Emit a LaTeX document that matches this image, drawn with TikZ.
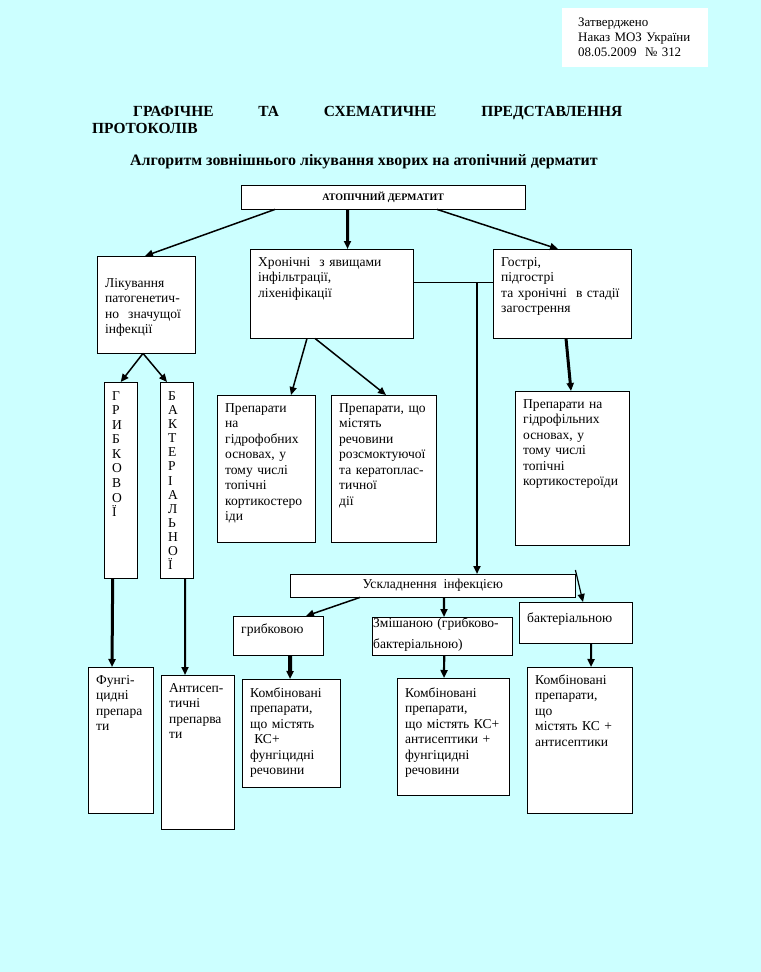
\documentclass[tikz,border=0pt]{standalone}
\usepackage{fontspec}
\setmainfont{Liberation Serif}
\usepackage{tikz}
\usetikzlibrary{arrows.meta}
\definecolor{bgcyan}{RGB}{204,255,255}
\hyphenpenalty=10000
\exhyphenpenalty=10000
\tikzset{
    cell/.style 2 args={draw, fill=white, anchor=north west, align=left,
        inner xsep=8bp, inner ysep=0pt,
        text width=#1bp-16bp, text height=17bp, text depth=#2bp-17bp},
    bar/.style={draw, fill=white, anchor=north west, inner sep=0pt},
    letters/.style={font=\fontsize{13.6}{#1}\selectfont, text height=18bp}
}

\begin{document}
\begin{tikzpicture}[x=1bp, y=-1bp,
    every node/.append style={font=\fontsize{13.6}{15.6}\selectfont}]
\fill[bgcyan] (0,0) rectangle (761,972);

% headings
\node[cell={146}{59}, draw=none, inner xsep=16bp, text width=114bp,
      text height=18bp, text depth=41bp, font=\fontsize{13}{15.3}\selectfont]
      (appr) at (562,8) {Затверджено\\Наказ МОЗ України\\08.05.2009\ \ № 312};
\node[anchor=base west, inner sep=0pt, text width=530bp, align=left,
      font=\bfseries\fontsize{15.5}{18}\selectfont]
      (ttl) at (92,116) {\hspace*{41bp}ГРАФІЧНЕ\hfill ТА\hfill СХЕМАТИЧНЕ\hfill ПРЕДСТАВЛЕННЯ\\ПРОТОКОЛІВ};
\node[anchor=base, font=\bfseries\fontsize{16}{19}\selectfont]
      (sub) at (364,165) {Алгоритм зовнішнього лікування хворих на атопічний дерматит};

% boxes
\begin{scope}
    \node[bar, minimum width=284bp, minimum height=24bp,
          font=\bfseries\fontsize{10}{12}\selectfont] (atop) at (241,185) {АТОПІЧНИЙ ДЕРМАТИТ};
    \node[cell={98}{97}, text height=31bp, text depth=66bp] (treat) at (97,256)
        {Лікування\\патогенетич-\\но\ \ значущої\\інфекції};
    \node[cell={163}{89}] (chron) at (250,249) {Хронічні\ \ з явищами\\інфільтрації,\\ліхеніфікації};
    \node[cell={138}{89}] (acute) at (493,249) {Гострі,\\підгострі\\та хронічні\ \ в стадії\\загострення};
    \node[cell={33}{195}, letters=14.6] (fung) at (104,382) {Г\\Р\\И\\Б\\К\\О\\В\\О\\Ї};
    \node[cell={33}{195}, letters=14.2] (bact) at (160,382) {Б\\А\\К\\Т\\Е\\Р\\І\\А\\Л\\Ь\\Н\\О\\Ї};
    \node[cell={98}{147}] (hydrophob) at (217,395)
        {Препарати\\на\\гідрофобних\\основах, у\\тому числі\\топічні\\кортикостеро\\іди};
    \node[cell={105}{147}] (resorb) at (331,395)
        {Препарати, що\\містять\\речовини\\розсмоктуючої\\та кератоплас-\\тичної\\дії};
    \node[cell={114}{154}] (hydrophil) at (515,391)
        {Препарати на\\гідрофільних\\основах, у\\тому числі\\топічні\\кортикостероїди};
    \node[bar, minimum width=285bp, minimum height=23bp] (compl) at (290,574) {Ускладнення\ \ інфекцією};
    \node[cell={90}{39}] (grib) at (233,616) {грибковою};
    \node[cell={140}{38}, inner xsep=1bp, text width=138bp, text height=10bp, text depth=28bp,
          font=\fontsize{13.6}{21.5}\selectfont] (mixed) at (372,617) {Змішаною (грибково-\\бактеріальною)};
    \node[cell={113}{41}, text height=20bp, text depth=21bp] (bactr) at (519,602) {бактеріальною};
    \node[cell={65}{146}] (fungp) at (88,667) {Фунгі-\\цидні\\препара\\ти};
    \node[cell={73}{154}] (antis) at (161,675) {Антисеп-\\тичні\\препарва\\ти};
    \node[cell={98}{108}, text height=18bp, text depth=90bp] (comb1) at (242,679)
        {Комбіновані\\препарати,\\що містять\\\hspace*{0.3em}КС+\\фунгіцидні\\речовини};
    \node[cell={112}{117}, text height=19bp, text depth=98bp] (comb2) at (397,678)
        {Комбіновані\\препарати,\\що містять КС+\\антисептики +\\фунгіцидні\\речовини};
    \node[cell={105}{146}] (comb3) at (527,667)
        {Комбіновані\\препарати,\\що\\містять КС +\\антисептики};
\end{scope}

\coordinate (split) at (477,282);

% connectors
\begin{scope}[>={Triangle[length=8bp,width=7bp]},
              every edge/.style={draw=black, line width=1.5bp}]
    \path [->] ([xshift=34bp]atop.south west) edge ([xshift=48bp]treat.north west);
    \draw [->, line width=3bp] ([xshift=106.5bp]atop.south west) -- ([xshift=97.5bp]chron.north west);
    \path [->] ([xshift=196bp]atop.south west) edge ([xshift=65bp]acute.north west);
    \path [->] ([xshift=46bp]treat.south west) edge (fung.north);
    \path [->] ([xshift=46bp]treat.south west) edge ([xshift=7bp]bact.north west);
    \path [->] ([xshift=57bp]chron.south west) edge ([xshift=74bp]hydrophob.north west);
    \path [->] ([xshift=65bp]chron.south west) edge ([xshift=55bp]resorb.north west);
    \draw [line width=0.8bp] ([yshift=11.5bp]chron.east) -- ([yshift=11.5bp]acute.west);
    \draw [->, line width=2.2bp] (split) -- (split |- compl.north);
    \draw [->, line width=3bp] ([xshift=73bp]acute.south west) -- ([xshift=56bp]hydrophil.north west);
    \path [->] ([xshift=70bp]compl.south west) edge ([xshift=73bp]grib.north west);
    \draw [->, line width=2.2bp] ([xshift=154bp]compl.south west) -- ([xshift=72bp]mixed.north west);
    \draw [->, line width=1.2bp] ([yshift=4bp]compl.north east) -- ([xshift=64bp]bactr.north west);
    \draw [->, line width=3bp] ([xshift=-8bp]fung.south) -- ([xshift=24bp]fungp.north west);
    \draw [->, line width=2bp] ([xshift=8.5bp]bact.south) -- ([xshift=24bp]antis.north west);
    \draw [->, line width=4bp] ([xshift=12bp]grib.south) -- ([xshift=48bp]comb1.north west);
    \draw [->, line width=2.2bp] ([xshift=2bp]mixed.south) -- ([xshift=47bp]comb2.north west);
    \draw [->, line width=2bp] ([xshift=15.5bp]bactr.south) -- ([xshift=64bp]comb3.north west);
\end{scope}
\end{tikzpicture}
\end{document}
